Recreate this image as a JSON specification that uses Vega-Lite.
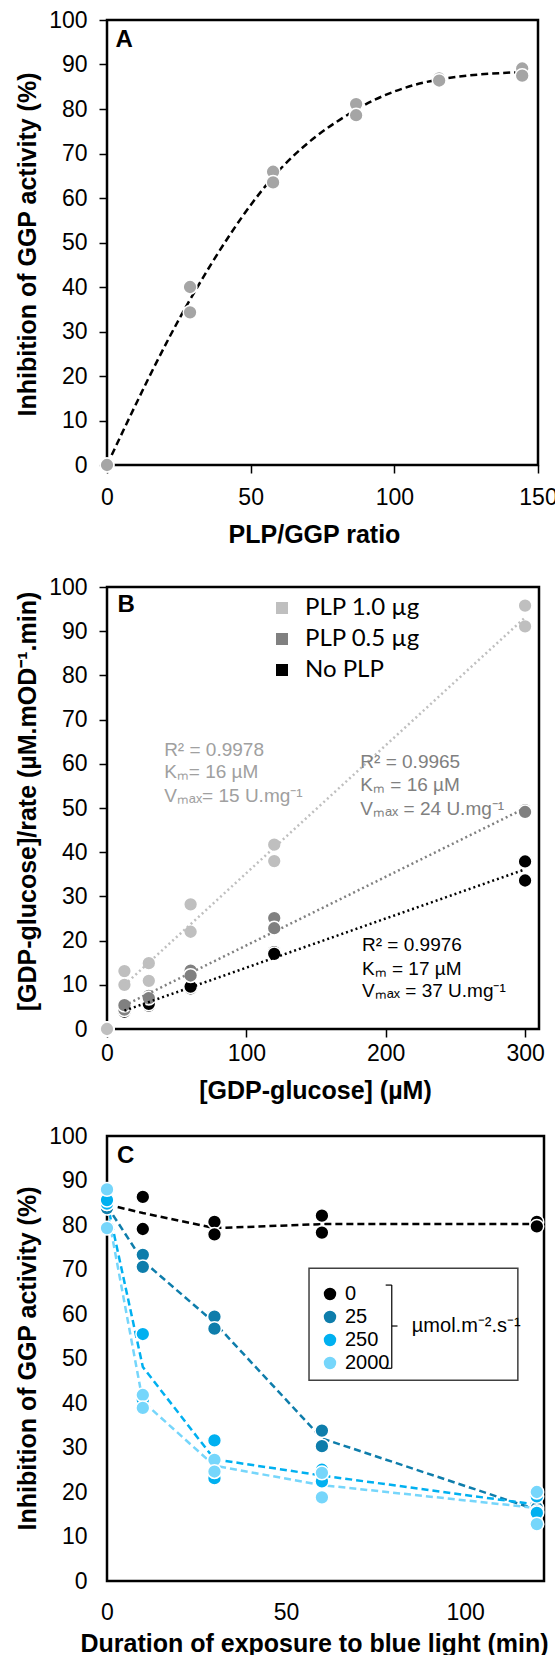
{
  "$schema": "https://vega.github.io/schema/vega-lite/v6.json",
  "usermeta": {"embedOptions": {"actions": false}},
  "padding": {"left": 13, "top": 7, "right": 0, "bottom": 0},
  "background": "white",
  "config": {
    "font": "Liberation Sans",
    "view": {"stroke": "#000000", "strokeWidth": 2.5, "fill": "white"},
    "axis": {"grid": false, "domain": false, "labelFont": "Liberation Sans", "labelFontSize": 23, "labelColor": "#000000", "titleFont": "Liberation Sans", "titleFontSize": 25, "titleFontWeight": "bold", "titleColor": "#000000", "tickColor": "#000000", "tickWidth": 1.5, "tickSize": 8, "labelFlush": false, "labelOverlap": false},
    "legend": {"labelFont": "Liberation Sans", "labelColor": "#000000", "titleColor": "#000000", "titleFont": "Liberation Sans"}
  },
  "datasets": {
    "a": [
      {"x": 0, "y": 0}, {"x": 0, "y": 0},
      {"x": 28.9, "y": 40.0}, {"x": 28.9, "y": 34.3},
      {"x": 57.8, "y": 65.9}, {"x": 57.8, "y": 63.5},
      {"x": 86.7, "y": 81.1}, {"x": 86.7, "y": 78.6},
      {"x": 115.6, "y": 86.9}, {"x": 115.6, "y": 86.4},
      {"x": 144.5, "y": 89.1}, {"x": 144.5, "y": 87.5}
    ],
    "b": [
      {"series": "No PLP", "x": 0, "y": 0}, {"series": "No PLP", "x": 0, "y": 0},
      {"series": "No PLP", "x": 12.5, "y": 4.2}, {"series": "No PLP", "x": 12.5, "y": 3.9},
      {"series": "No PLP", "x": 30, "y": 5.3}, {"series": "No PLP", "x": 30, "y": 5.7},
      {"series": "No PLP", "x": 60, "y": 9.2}, {"series": "No PLP", "x": 60, "y": 9.6},
      {"series": "No PLP", "x": 120, "y": 17.4}, {"series": "No PLP", "x": 120, "y": 17.0},
      {"series": "No PLP", "x": 300, "y": 37.9}, {"series": "No PLP", "x": 300, "y": 33.6},
      {"series": "PLP 0.5 µg", "x": 0, "y": 0}, {"series": "PLP 0.5 µg", "x": 0, "y": 0},
      {"series": "PLP 0.5 µg", "x": 12.5, "y": 4.4}, {"series": "PLP 0.5 µg", "x": 12.5, "y": 5.4},
      {"series": "PLP 0.5 µg", "x": 30, "y": 7.5}, {"series": "PLP 0.5 µg", "x": 30, "y": 7.0},
      {"series": "PLP 0.5 µg", "x": 60, "y": 13.2}, {"series": "PLP 0.5 µg", "x": 60, "y": 12.1},
      {"series": "PLP 0.5 µg", "x": 120, "y": 25.1}, {"series": "PLP 0.5 µg", "x": 120, "y": 22.8},
      {"series": "PLP 0.5 µg", "x": 300, "y": 49.5}, {"series": "PLP 0.5 µg", "x": 300, "y": 49.1},
      {"series": "PLP 1.0 µg", "x": 0, "y": 0}, {"series": "PLP 1.0 µg", "x": 0, "y": 0},
      {"series": "PLP 1.0 µg", "x": 12.5, "y": 13.1}, {"series": "PLP 1.0 µg", "x": 12.5, "y": 10.0},
      {"series": "PLP 1.0 µg", "x": 30, "y": 14.9}, {"series": "PLP 1.0 µg", "x": 30, "y": 10.9},
      {"series": "PLP 1.0 µg", "x": 60, "y": 28.2}, {"series": "PLP 1.0 µg", "x": 60, "y": 22.0},
      {"series": "PLP 1.0 µg", "x": 120, "y": 41.7}, {"series": "PLP 1.0 µg", "x": 120, "y": 38.0},
      {"series": "PLP 1.0 µg", "x": 300, "y": 95.8}, {"series": "PLP 1.0 µg", "x": 300, "y": 91.1}
    ],
    "bt": [
      {"block": 1, "x": 41, "y": 63.2, "label": "R² = 0.9978"},
      {"block": 1, "x": 41, "y": 58.1, "label": "Kₘ= 16 µM"},
      {"block": 1, "x": 41, "y": 52.8, "label": "Vₘₐₓ= 15 U.mg⁻¹"},
      {"block": 2, "x": 181.8, "y": 60.5, "label": "R² = 0.9965"},
      {"block": 2, "x": 181.8, "y": 55.1, "label": "Kₘ = 16 µM"},
      {"block": 2, "x": 181.8, "y": 49.8, "label": "Vₘₐₓ = 24 U.mg⁻¹"},
      {"block": 3, "x": 183, "y": 18.9, "label": "R² = 0.9976"},
      {"block": 3, "x": 183, "y": 13.6, "label": "Kₘ = 17 µM"},
      {"block": 3, "x": 183, "y": 8.5, "label": "Vₘₐₓ = 37 U.mg⁻¹"}
    ],
    "c": [
      {"series": "0", "x": 0, "y": 84.5}, {"series": "0", "x": 0, "y": 84.7},
      {"series": "0", "x": 10, "y": 86.3}, {"series": "0", "x": 10, "y": 79.1},
      {"series": "0", "x": 30, "y": 80.7}, {"series": "0", "x": 30, "y": 77.9},
      {"series": "0", "x": 60, "y": 82.1}, {"series": "0", "x": 60, "y": 78.3},
      {"series": "0", "x": 120, "y": 80.7}, {"series": "0", "x": 120, "y": 79.7},
      {"series": "25", "x": 0, "y": 83.8}, {"series": "25", "x": 0, "y": 84.8},
      {"series": "25", "x": 10, "y": 73.3}, {"series": "25", "x": 10, "y": 70.6},
      {"series": "25", "x": 30, "y": 59.4}, {"series": "25", "x": 30, "y": 56.7},
      {"series": "25", "x": 60, "y": 33.8}, {"series": "25", "x": 60, "y": 30.3},
      {"series": "25", "x": 120, "y": 16.4}, {"series": "25", "x": 120, "y": 15.6},
      {"series": "250", "x": 0, "y": 84.8}, {"series": "250", "x": 0, "y": 85.6},
      {"series": "250", "x": 10, "y": 55.5}, {"series": "250", "x": 10, "y": 40.7},
      {"series": "250", "x": 30, "y": 31.6}, {"series": "250", "x": 30, "y": 23.1},
      {"series": "250", "x": 60, "y": 22.4}, {"series": "250", "x": 60, "y": 25.0},
      {"series": "250", "x": 120, "y": 15.3}, {"series": "250", "x": 120, "y": 19.0},
      {"series": "2000", "x": 0, "y": 88.0}, {"series": "2000", "x": 0, "y": 79.3},
      {"series": "2000", "x": 10, "y": 41.8}, {"series": "2000", "x": 10, "y": 38.9},
      {"series": "2000", "x": 30, "y": 27.2}, {"series": "2000", "x": 30, "y": 24.6},
      {"series": "2000", "x": 60, "y": 24.3}, {"series": "2000", "x": 60, "y": 18.8},
      {"series": "2000", "x": 120, "y": 20.0}, {"series": "2000", "x": 120, "y": 12.8}
    ],
    "bracket": [
      {"x": 79.5, "x2": 79.5, "y": 66.5, "y2": 47.8},
      {"x": 77.8, "x2": 79.5, "y": 66.5, "y2": 66.5},
      {"x": 77.8, "x2": 79.5, "y": 47.8, "y2": 47.8},
      {"x": 79.5, "x2": 81.1, "y": 57.3, "y2": 57.3}
    ],
    "legendbox": [
      {"x": 56.4, "x2": 114.7, "y": 70.3, "y2": 45.1}
    ],
    "unit": [
      {"x": 85.1, "y": 57.3, "label": "µmol.m⁻².s⁻¹"}
    ]
  },
  "resolve": {"scale": {"color": "independent"}, "legend": {"color": "independent"}},
  "spacing": 25,
  "vconcat": [
    {
      "width": 431,
      "height": 445,
      "encoding": {
        "x": {"field": "x", "type": "quantitative", "scale": {"domain": [0, 150], "nice": false, "zero": false},
          "axis": {"title": "PLP/GGP ratio", "values": [0, 50, 100, 150], "labelPadding": 13, "titleX": 207, "titleY": 77, "titleBaseline": "alphabetic"}},
        "y": {"field": "y", "type": "quantitative", "scale": {"domain": [0, 100], "nice": false},
          "axis": {"title": "Inhibition of GGP activity (%)", "values": [0, 10, 20, 30, 40, 50, 60, 70, 80, 90, 100], "labelPadding": 12, "titleX": -72, "titleY": 224, "titleBaseline": "alphabetic"}}
      },
      "layer": [
        {
          "data": {"name": "a"},
          "transform": [{"aggregate": [{"op": "mean", "field": "y", "as": "y"}], "groupby": ["x"]}],
          "mark": {"type": "line", "color": "#000000", "strokeWidth": 2.5, "strokeDash": [7, 4], "interpolate": "monotone"}
        },
        {
          "data": {"name": "a"},
          "mark": {"type": "circle", "size": 190, "color": "#a5a5a5", "opacity": 1, "stroke": "#ffffff", "strokeWidth": 1.5}
        },
        {
          "data": {"values": [{"label": "A", "x": 3, "y": 95.5}]},
          "mark": {"type": "text", "fontWeight": "bold", "fontSize": 24, "align": "left", "baseline": "middle", "color": "#000000"},
          "encoding": {"text": {"field": "label"}}
        }
      ]
    },
    {
      "spacing": 18,
      "resolve": {"scale": {"color": "independent"}, "legend": {"color": "independent"}},
      "vconcat": [
        {
          "width": 432,
          "height": 442,
          "encoding": {
            "x": {"field": "x", "type": "quantitative", "scale": {"domain": [0, 310], "nice": false, "zero": false},
              "axis": {"title": "[GDP-glucose] (µM)", "values": [0, 100, 200, 300], "labelPadding": 5, "titleX": 208, "titleY": 69, "titleBaseline": "alphabetic"}},
            "y": {"field": "y", "type": "quantitative", "scale": {"domain": [0, 100], "nice": false},
              "axis": {"title": "[GDP-glucose]/rate (µM.mOD⁻¹.min)", "values": [0, 10, 20, 30, 40, 50, 60, 70, 80, 90, 100], "labelPadding": 12, "titleX": -72, "titleY": 214, "titleBaseline": "alphabetic"}}
          },
          "layer": [
            {
              "data": {"name": "b"},
              "mark": {"type": "circle", "size": 190, "opacity": 1, "stroke": "#ffffff", "strokeWidth": 1.5},
              "encoding": {
                "color": {"field": "series", "type": "nominal",
                  "scale": {"domain": ["PLP 1.0 µg", "PLP 0.5 µg", "No PLP"], "range": ["#bfbfbf", "#808080", "#000000"]},
                  "legend": {"orient": "none", "legendX": 163, "legendY": 9, "title": null, "symbolType": "square", "symbolSize": 144, "symbolStrokeWidth": 0, "symbolOpacity": 1, "labelFont": "Lato", "labelFontSize": 24, "rowPadding": 7, "labelOffset": 11, "padding": 0}}
              }
            },
            {
              "data": {"name": "b"},
              "transform": [{"filter": "datum.x > 0"}, {"regression": "y", "on": "x", "groupby": ["series"], "extent": [12.5, 300]}],
              "mark": {"type": "line", "strokeWidth": 2.5, "strokeDash": [2, 3]},
              "encoding": {"color": {"field": "series", "type": "nominal", "legend": null}}
            },
            {
              "data": {"name": "bt"},
              "transform": [{"filter": "datum.block == 1"}],
              "mark": {"type": "text", "fontSize": 19, "align": "left", "baseline": "middle", "color": "#a0a0a0"},
              "encoding": {"text": {"field": "label"}}
            },
            {
              "data": {"name": "bt"},
              "transform": [{"filter": "datum.block == 2"}],
              "mark": {"type": "text", "fontSize": 19, "align": "left", "baseline": "middle", "color": "#808080"},
              "encoding": {"text": {"field": "label"}}
            },
            {
              "data": {"name": "bt"},
              "transform": [{"filter": "datum.block == 3"}],
              "mark": {"type": "text", "fontSize": 19, "align": "left", "baseline": "middle", "color": "#000000"},
              "encoding": {"text": {"field": "label"}}
            },
            {
              "data": {"values": [{"label": "B", "x": 7.5, "y": 95.9}]},
              "mark": {"type": "text", "fontWeight": "bold", "fontSize": 24, "align": "left", "baseline": "middle", "color": "#000000"},
              "encoding": {"text": {"field": "label"}}
            }
          ]
        },
        {
          "width": 437,
          "height": 445,
          "encoding": {
            "x": {"field": "x", "type": "quantitative", "scale": {"domain": [0, 122], "nice": false, "zero": false},
              "axis": {"title": "Duration of exposure to blue light (min)", "values": [0, 50, 100], "ticks": false, "tickSize": 0, "labelPadding": 20, "titleX": 207, "titleY": 70, "titleBaseline": "alphabetic"}},
            "y": {"field": "y", "type": "quantitative", "scale": {"domain": [0, 100], "nice": false},
              "axis": {"title": "Inhibition of GGP activity (%)", "values": [0, 10, 20, 30, 40, 50, 60, 70, 80, 90, 100], "ticks": false, "tickSize": 0, "labelPadding": 20, "titleX": -72, "titleY": 222, "titleBaseline": "alphabetic"}},
            "color": {"field": "series", "type": "nominal",
              "scale": {"domain": ["0", "25", "250", "2000"], "range": ["#000000", "#0e7dab", "#00b0f0", "#76d6fb"]},
              "legend": {"orient": "none", "legendX": 213, "legendY": 148, "title": null, "padding": 0, "labelFontSize": 20, "symbolType": "circle", "symbolSize": 154, "symbolStrokeWidth": 0, "symbolOpacity": 1, "rowPadding": 3, "labelOffset": 5}}
          },
          "layer": [
            {
              "data": {"name": "legendbox"},
              "mark": {"type": "rect", "filled": false, "stroke": "#404040", "strokeWidth": 1.5},
              "encoding": {"x2": {"field": "x2"}, "y2": {"field": "y2"}, "color": {"value": "#404040"}}
            },
            {
              "data": {"name": "c"},
              "transform": [{"aggregate": [{"op": "mean", "field": "y", "as": "y"}], "groupby": ["series", "x"]}],
              "mark": {"type": "line", "strokeWidth": 2.5, "strokeDash": [7, 4]}
            },
            {
              "data": {"name": "c"},
              "mark": {"type": "circle", "size": 190, "opacity": 1, "stroke": "#ffffff", "strokeWidth": 1.5}
            },
            {
              "data": {"name": "bracket"},
              "mark": {"type": "rule", "strokeWidth": 1.2},
              "encoding": {"x2": {"field": "x2"}, "y2": {"field": "y2"}, "color": {"value": "#000000"}}
            },
            {
              "data": {"name": "unit"},
              "mark": {"type": "text", "fontSize": 20, "align": "left", "baseline": "middle"},
              "encoding": {"text": {"field": "label"}, "color": {"value": "#000000"}}
            },
            {
              "data": {"values": [{"label": "C", "x": 2.8, "y": 95.5}]},
              "mark": {"type": "text", "fontWeight": "bold", "fontSize": 24, "align": "left", "baseline": "middle"},
              "encoding": {"text": {"field": "label"}, "color": {"value": "#000000"}}
            }
          ]
        }
      ]
    }
  ]
}
